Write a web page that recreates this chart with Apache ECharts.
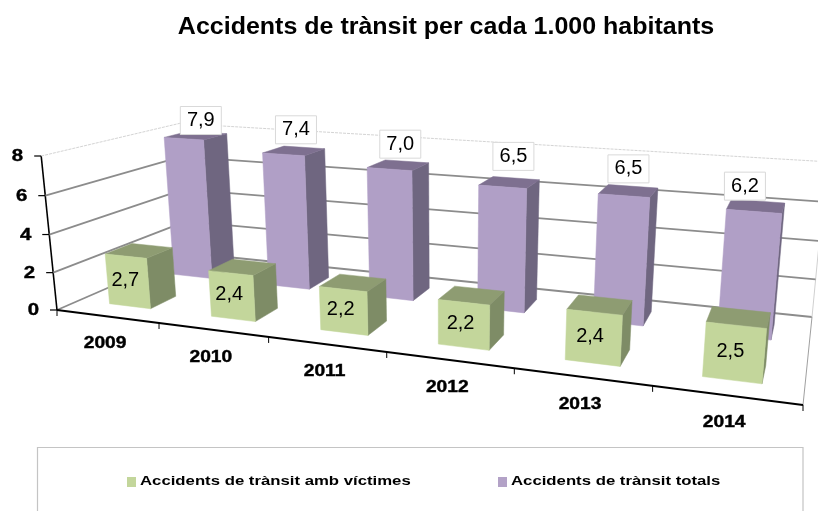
<!DOCTYPE html>
<html>
<head>
<meta charset="utf-8">
<style>
  html, body { margin: 0; padding: 0; background: #fff; }
  #main { width: 818px; height: 511px; }
</style>
<script src="https://cdn.jsdelivr.net/npm/echarts@6/dist/echarts.min.js"></script>
</head>
<body>
<div id="main"></div>
<script>
const years = ['2009', '2010', '2011', '2012', '2013', '2014']
const victimes = [2.7, 2.4, 2.2, 2.2, 2.4, 2.5]
const totals = [7.9, 7.4, 7.0, 6.5, 6.5, 6.2]
const yTicks = [0, 2, 4, 6, 8]

const titleText = 'Accidents de trànsit per cada 1.000 habitants'
const victimesName = 'Accidents de trànsit amb víctimes'
const totalsName = 'Accidents de trànsit totals'

// the white label boxes were moved by hand in the original
const labelNudgeX = [5, 2, 2, 4, 0, -11]
const labelNudgeY = [1, -5, -5, -10, -6, -4]

const FONT = '"Liberation Sans", Arial, sans-serif'
const grid = { left: 57, top: 156, width: 746, height: 154 }

// floor corners on screen: front left, front right, back right, back left
const A = [57, 310]
const B = [803, 405]
const C = [812, 317]
const D = [188, 253]
const VANISH = [447, 4110] // where the verticals meet, far below the chart

// square to quad homography for the floor
const dx1 = B[0] - C[0]
const dx2 = D[0] - C[0]
const sx = A[0] - B[0] + C[0] - D[0]
const dy1 = B[1] - C[1]
const dy2 = D[1] - C[1]
const sy = A[1] - B[1] + C[1] - D[1]
const det = dx1 * dy2 - dx2 * dy1
const g = (sx * dy2 - dx2 * sy) / det
const h = (dx1 * sy - sx * dy1) / det
const r = (grid.top - A[1]) / (VANISH[1] - grid.top)

// s along the years 0..1, w depth 0..1, z height 0..1
const project = (s, w, z) => {
  const den = g * s + h * w + r * z + 1
  return [
    ((B[0] - A[0] + g * B[0]) * s + (D[0] - A[0] + h * D[0]) * w + VANISH[0] * r * z + A[0]) / den,
    ((B[1] - A[1] + g * B[1]) * s + (D[1] - A[1] + h * D[1]) * w + VANISH[1] * r * z + A[1]) / den
  ]
}

// goes through the hidden cartesian axes and then into the 3d view
const toScreen = (api, idx, val, offset, w) => {
  const px = api.coord([idx, val])
  const band = api.size([1, 0])[0]
  const s = (px[0] + offset * band - grid.left) / grid.width
  const z = (grid.top + grid.height - px[1]) / grid.height
  return project(s, w, z)
}

const poly = (points, fill) => ({
  type: 'polygon',
  shape: { points },
  style: { fill, stroke: fill, lineWidth: 0.5 }
})

const line = (p, q, stroke, lineWidth, extra) => ({
  type: 'line',
  shape: { x1: p[0], y1: p[1], x2: q[0], y2: q[1] },
  style: { stroke, lineWidth, ...extra }
})

// bold text in the original is wider than Liberation, so it gets stretched
const label = (text, x, y, font, align, scaleX, bold) => ({
  type: 'text',
  x,
  y,
  scaleX: scaleX || 1,
  style: {
    text,
    align,
    verticalAlign: 'middle',
    font: font + ' ' + FONT,
    fill: '#000',
    stroke: bold ? '#000' : null,
    lineWidth: bold ? 0.4 : 0
  }
})

const BAR_W = 0.41
const VIC_DEPTH = [0.15, 0.34]
const TOT_DEPTH = [0.64, 0.84]

const renderBox = (depth, colors) => (params, api) => {
  const idx = api.value(0)
  const val = api.value(1)
  const l = -BAR_W / 2 + 0.01
  const r2 = BAR_W / 2 + 0.01
  const p = (o, w, v) => toScreen(api, idx, v, o, w)
  return {
    type: 'group',
    children: [
      poly([p(r2, depth[0], 0), p(r2, depth[1], 0), p(r2, depth[1], val), p(r2, depth[0], val)], colors.side),
      poly([p(l, depth[0], val), p(r2, depth[0], val), p(r2, depth[1], val), p(l, depth[1], val)], colors.top),
      poly([p(l, depth[0], 0), p(r2, depth[0], 0), p(r2, depth[0], val), p(l, depth[0], val)], colors.front)
    ]
  }
}

const renderFrame = (params, api) => {
  const val = api.value(0)
  const z = val / 8
  const left = project(0, 0, z)
  const corner = project(0, 1, z)
  const right = project(1, 1, z)
  const isTop = val === 8
  const color = isTop ? '#d4d4d4' : '#8c8c8c'
  const width = isTop ? 1 : 1.8
  const extra = isTop ? { lineDash: [3, 1] } : {}
  const children = [
    line(left, corner, color, width, extra),
    line(corner, right, color, width, extra),
    line(left, [left[0] - 7, left[1]], '#000', 1.2),
    label(String(val), left[0] - 18, left[1] + 0.5, 'bold 17px', 'right', 1.2, true)
  ]
  if (val === 0) {
    children.push(line(project(1, 0, 0), project(1, 1, 0), '#a0a0a0', 1))
    children.push(line(project(1, 1, 0), project(1, 1, 1), '#d0d0d0', 1))
    children.push(line(project(0, 0, 0), project(0, 0, 1), '#000', 1.6))
    children.push(line(project(0, 0, 0), project(1, 0, 0), '#000', 2))
  }
  return { type: 'group', children }
}

const renderYear = (params, api) => {
  const idx = api.value(0)
  const front = toScreen(api, idx, 0, 0, 0)
  const tick = toScreen(api, idx, 0, 0.5, 0)
  const first = toScreen(api, idx, 0, -0.5, 0)
  const children = [
    line(tick, [tick[0], tick[1] + 6], '#000', 1),
    label(years[idx], front[0] - 2, front[1] + 27.5, 'bold 16px', 'center', 1.2, true)
  ]
  if (idx === 0) children.push(line(first, [first[0], first[1] + 6], '#000', 1))
  return { type: 'group', children }
}

const renderVictimesLabel = (params, api) => {
  const idx = api.value(0)
  const val = api.value(1)
  const c = toScreen(api, idx, val / 2, -0.015, VIC_DEPTH[0])
  return label(val.toFixed(1).replace('.', ','), c[0], c[1] - 1, '20px', 'center')
}

const renderTotalsLabel = (params, api) => {
  const idx = api.value(0)
  const val = api.value(1)
  const c = toScreen(api, idx, val, 0.01, (TOT_DEPTH[0] + TOT_DEPTH[1]) / 2)
  const cx = c[0] + labelNudgeX[idx]
  const cy = c[1] - 16 + labelNudgeY[idx]
  return {
    type: 'group',
    children: [
      {
        type: 'rect',
        shape: { x: cx - 20.5, y: cy - 14, width: 41, height: 28 },
        style: { fill: '#fff', stroke: '#d9d9d9', lineWidth: 1 }
      },
      label(val.toFixed(1).replace('.', ','), cx, cy, '20px', 'center')
    ]
  }
}

const pairs = (arr) => arr.map((v, i) => [i, v])

const legendEntry = (text, x, color) => [
  { type: 'rect', shape: { x, y: 477, width: 9, height: 10 }, style: { fill: color } },
  {
    type: 'text',
    x: x + 13,
    y: 481,
    scaleX: 1.24,
    style: {
      text,
      verticalAlign: 'middle',
      font: 'bold 13.5px ' + FONT,
      fill: '#000'
    }
  }
]

const option = {
  animation: false,
  backgroundColor: '#fff',
  grid: { ...grid },
  xAxis: { type: 'category', data: years, show: false },
  yAxis: { type: 'value', min: 0, max: 8, interval: 2, show: false },
  graphic: [
    {
      type: 'text',
      x: 446,
      y: 28,
      scaleX: 1.087,
      style: {
        text: titleText,
        align: 'center',
        verticalAlign: 'middle',
        font: 'bold 23px ' + FONT,
        fill: '#000'
      }
    },
    {
      type: 'rect',
      shape: { x: 37.5, y: 447.5, width: 765.5, height: 80 },
      style: { fill: 'none', stroke: '#c4c4c4', lineWidth: 1.2 }
    },
    ...legendEntry(victimesName, 127, '#c3d69b'),
    ...legendEntry(totalsName, 498, '#b3a2c7')
  ],
  series: [
    {
      type: 'custom',
      silent: true,
      data: yTicks.map((v) => [v]),
      renderItem: renderFrame,
      encode: { y: 0 }
    },
    {
      type: 'custom',
      silent: true,
      data: years.map((y, i) => [i]),
      renderItem: renderYear,
      encode: { x: 0 }
    },
    {
      name: totalsName,
      type: 'custom',
      data: pairs(totals),
      renderItem: renderBox(TOT_DEPTH, { front: '#b09fc6', side: '#6f6680', top: '#7e7090' }),
      encode: { x: 0, y: 1 }
    },
    {
      name: victimesName,
      type: 'custom',
      data: pairs(victimes),
      renderItem: renderBox(VIC_DEPTH, { front: '#c3d69b', side: '#7e8c66', top: '#8e9c72' }),
      encode: { x: 0, y: 1 }
    },
    {
      type: 'custom',
      silent: true,
      data: pairs(totals),
      renderItem: renderTotalsLabel,
      encode: { x: 0, y: 1 }
    },
    {
      type: 'custom',
      silent: true,
      data: pairs(victimes),
      renderItem: renderVictimesLabel,
      encode: { x: 0, y: 1 }
    }
  ]
}

const myChart = echarts.init(document.getElementById('main'))
myChart.setOption(option)
</script>
</body>
</html>
